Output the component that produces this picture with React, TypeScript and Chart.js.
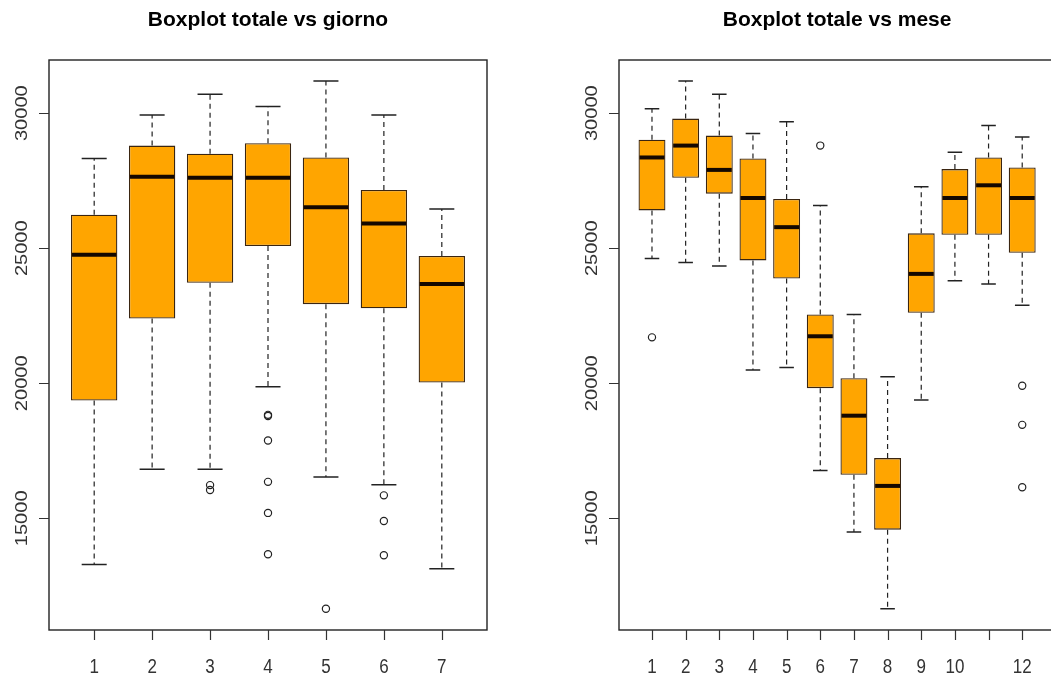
import React, { useEffect, useRef } from "react";
import { Chart, registerables } from "chart.js";

Chart.register(...registerables);

// ---- Data: "totale" vs day of week ----
const dayCategories = [1, 2, 3, 4, 5, 6, 7];
const dayTickLabels = ["1", "2", "3", "4", "5", "6", "7"];
const dayLowerWhisker = [13290, 16820, 16820, 19870, 16530, 16240, 13130];
const dayQ1 = [19360, 22400, 23720, 25080, 22930, 22780, 20030];
const dayMedian = [24760, 27650, 27610, 27610, 26520, 25920, 23680];
const dayQ3 = [26240, 28800, 28500, 28890, 28360, 27160, 24710];
const dayUpperWhisker = [28320, 29930, 30700, 30250, 31190, 29930, 26450];
const dayOutliers: number[][] = [
  [],
  [],
  [16230, 16050],
  [18830, 18790, 17880, 16350, 15200, 13670],
  [11650],
  [15850, 14900, 13630],
  [],
];

// ---- Data: "totale" vs month ----
const monthCategories = [1, 2, 3, 4, 5, 6, 7, 8, 9, 10, 11, 12];
const monthTickLabels = ["1", "2", "3", "4", "5", "6", "7", "8", "9", "10", "", "12"];
const monthLowerWhisker = [24620, 24470, 24340, 20490, 20580, 16770, 14490, 11650, 19380, 23800, 23680, 22890];
const monthQ1 = [26400, 27610, 27020, 24550, 23880, 19820, 16610, 14580, 22610, 25500, 25500, 24830];
const monthMedian = [28360, 28800, 27900, 26860, 25780, 21740, 18800, 16200, 24050, 26860, 27330, 26860];
const monthQ3 = [29020, 29800, 29170, 28320, 26820, 22550, 20190, 17230, 25550, 27930, 28360, 27990];
const monthUpperWhisker = [30160, 31190, 30700, 29250, 29680, 26580, 22550, 20240, 27280, 28550, 29540, 29120];
const monthOutliers: number[][] = [[21700], [], [], [], [], [28800], [], [], [], [], [], [19910, 18460, 16150]];

const yTicks = [15000, 20000, 25000, 30000];
const yTickLabels = ["15000", "20000", "25000", "30000"];
const yMin = 10865;
const yMax = 31969;

type BoxSpec = {
  title: string;
  categories: number[];
  tickLabels: string[];
  lower: number[];
  q1: number[];
  median: number[];
  q3: number[];
  upper: number[];
  outliers: number[][];
  padding: { left: number; right: number; top: number; bottom: number };
};

const TEXT_FONT = '"Liberation Sans", Arial, sans-serif';

function makeChart(canvas: HTMLCanvasElement, spec: BoxSpec) {
  const n = spec.categories.length;
  const xMin = 0.5 - 0.04 * n;
  const xMax = n + 0.5 + 0.04 * n;

  const boxData = spec.categories.map((c, i) => ({ x: c, y: [spec.q1[i], spec.q3[i]] }));
  const outlierData: { x: number; y: number }[] = [];
  spec.outliers.forEach((list, i) => list.forEach((v) => outlierData.push({ x: spec.categories[i], y: v })));

  const plugin = {
    id: "boxExtras",
    beforeDatasetsDraw(chart: any) {
      const ctx = chart.ctx;
      const ys = chart.scales.y;
      const meta = chart.getDatasetMeta(0);
      ctx.save();
      meta.data.forEach((bar: any, i: number) => {
        const x = bar.x;
        const w = bar.width;
        const pQ1 = ys.getPixelForValue(spec.q1[i]);
        const pQ3 = ys.getPixelForValue(spec.q3[i]);
        const pLo = ys.getPixelForValue(spec.lower[i]);
        const pHi = ys.getPixelForValue(spec.upper[i]);
        ctx.strokeStyle = "#222";
        ctx.lineWidth = 1.2;
        ctx.setLineDash([5, 4]);
        ctx.beginPath();
        ctx.moveTo(x, pQ3);
        ctx.lineTo(x, pHi);
        ctx.moveTo(x, pQ1);
        ctx.lineTo(x, pLo);
        ctx.stroke();
        ctx.setLineDash([]);
        ctx.lineWidth = 1.5;
        const sw = w * 0.27;
        ctx.beginPath();
        ctx.moveTo(x - sw, pHi);
        ctx.lineTo(x + sw, pHi);
        ctx.moveTo(x - sw, pLo);
        ctx.lineTo(x + sw, pLo);
        ctx.stroke();
      });
      ctx.restore();
    },
    afterDatasetsDraw(chart: any) {
      const ctx = chart.ctx;
      const ys = chart.scales.y;
      const meta = chart.getDatasetMeta(0);
      ctx.save();
      meta.data.forEach((bar: any, i: number) => {
        const x = bar.x;
        const w = bar.width;
        const pM = ys.getPixelForValue(spec.median[i]);
        ctx.strokeStyle = "#140800";
        ctx.lineWidth = 4;
        ctx.lineCap = "butt";
        ctx.beginPath();
        ctx.moveTo(x - w / 2 + 1, pM);
        ctx.lineTo(x + w / 2 - 1, pM);
        ctx.stroke();
      });
      ctx.restore();
    },
    afterDraw(chart: any) {
      const ctx = chart.ctx;
      const area = chart.chartArea;
      const xs = chart.scales.x;
      const ys = chart.scales.y;
      ctx.save();
      // frame
      ctx.strokeStyle = "#222";
      ctx.lineWidth = 1.4;
      ctx.strokeRect(area.left, area.top, area.right - area.left, area.bottom - area.top);
      // tick marks
      ctx.lineWidth = 1.2;
      ctx.strokeStyle = "#333";
      ctx.beginPath();
      spec.categories.forEach((c) => {
        const px = Math.round(xs.getPixelForValue(c)) + 0.5;
        ctx.moveTo(px, area.bottom);
        ctx.lineTo(px, area.bottom + 10);
      });
      yTicks.forEach((v) => {
        const py = Math.round(ys.getPixelForValue(v)) + 0.5;
        ctx.moveTo(area.left, py);
        ctx.lineTo(area.left - 10, py);
      });
      ctx.stroke();
      // labels
      ctx.fillStyle = "#333";
      ctx.font = `17px ${TEXT_FONT}`;
      ctx.textAlign = "center";
      ctx.textBaseline = "alphabetic";
      spec.categories.forEach((c, i) => {
        const px = xs.getPixelForValue(c);
        ctx.save();
        ctx.translate(px, area.bottom + 43);
        ctx.scale(1, 1.18);
        ctx.fillText(spec.tickLabels[i], 0, 0);
        ctx.restore();
      });
      yTicks.forEach((v, i) => {
        const py = ys.getPixelForValue(v);
        ctx.save();
        ctx.translate(area.left - 22, py);
        ctx.rotate(-Math.PI / 2);
        ctx.scale(1.18, 1);
        ctx.fillText(yTickLabels[i], 0, 0);
        ctx.restore();
      });
      // title
      ctx.fillStyle = "#000";
      ctx.font = `bold 21px ${TEXT_FONT}`;
      ctx.fillText(spec.title, (area.left + area.right) / 2, 26);
      ctx.restore();
    },
  };

  return new Chart(canvas, {
    type: "bar",
    data: {
      datasets: [
        {
          type: "bar",
          data: boxData as any,
          backgroundColor: "#FFA500",
          borderColor: "#3a2510",
          borderWidth: 1.3,
          borderSkipped: false,
          barPercentage: 0.8,
          categoryPercentage: 1,
        } as any,
        {
          type: "scatter",
          data: outlierData as any,
          pointRadius: 3.6,
          pointHoverRadius: 3.6,
          pointBorderWidth: 1.2,
          pointBorderColor: "#222",
          pointBackgroundColor: "rgba(0,0,0,0)",
          showLine: false,
        } as any,
      ],
    },
    options: {
      responsive: false,
      devicePixelRatio: 1,
      animation: false,
      events: [],
      layout: { padding: spec.padding },
      plugins: {
        legend: { display: false },
        tooltip: { enabled: false },
        title: { display: false },
      },
      scales: {
        x: {
          type: "linear",
          display: false,
          offset: false,
          min: xMin,
          max: xMax,
          afterBuildTicks: (s: any) => {
            s.ticks = spec.categories.map((v) => ({ value: v }));
          },
        },
        y: {
          type: "linear",
          display: false,
          beginAtZero: false,
          min: yMin,
          max: yMax,
        },
      },
    },
    plugins: [plugin],
  } as any);
}

function BoxChart({ spec, left, width }: { spec: BoxSpec; left: number; width: number }) {
  const ref = useRef<HTMLCanvasElement | null>(null);
  useEffect(() => {
    if (!ref.current) return;
    const chart = makeChart(ref.current, spec);
    return () => chart.destroy();
  }, [spec]);
  return (
    <canvas
      ref={ref}
      width={width}
      height={676}
      style={{ position: "absolute", left, top: 0, width, height: 676, display: "block" }}
    />
  );
}

const daySpec: BoxSpec = {
  title: "Boxplot totale vs giorno",
  categories: dayCategories,
  tickLabels: dayTickLabels,
  lower: dayLowerWhisker,
  q1: dayQ1,
  median: dayMedian,
  q3: dayQ3,
  upper: dayUpperWhisker,
  outliers: dayOutliers,
  padding: { left: 49, right: 43, top: 60, bottom: 46 },
};

const monthSpec: BoxSpec = {
  title: "Boxplot totale vs mese",
  categories: monthCategories,
  tickLabels: monthTickLabels,
  lower: monthLowerWhisker,
  q1: monthQ1,
  median: monthMedian,
  q3: monthQ3,
  upper: monthUpperWhisker,
  outliers: monthOutliers,
  padding: { left: 89, right: 4, top: 60, bottom: 46 },
};

export default function App() {
  return (
    <div
      style={{
        position: "fixed",
        left: 0,
        top: 0,
        width: 1051,
        height: 676,
        overflow: "hidden",
        background: "#fff",
      }}
    >
      <BoxChart spec={daySpec} left={0} width={530} />
      <BoxChart spec={monthSpec} left={530} width={530} />
    </div>
  );
}
